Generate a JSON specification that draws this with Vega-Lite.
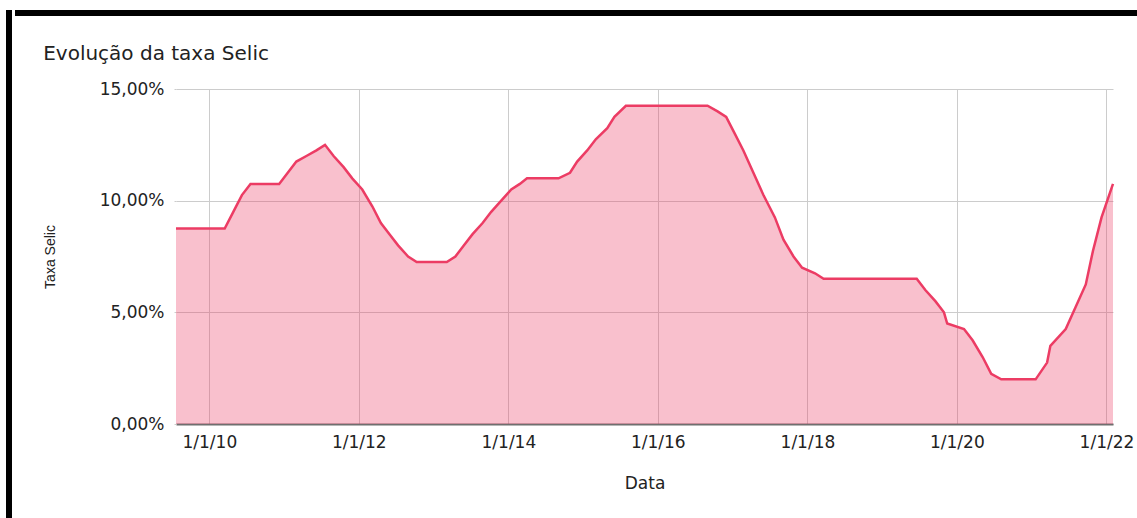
{
  "$schema": "https://vega.github.io/schema/vega-lite/v6.json",
  "background": "white",
  "padding": {"left": 6, "top": 10, "right": 0, "bottom": 0},
  "config": {"view": {"stroke": null}},
  "spacing": 0,
  "hconcat": [
    {
      "width": 6,
      "height": 508,
      "view": {"fill": "black", "stroke": null},
      "data": {"values": [{}]},
      "mark": {"type": "point", "opacity": 0},
      "encoding": {}
    },
    {
      "spacing": 28,
      "vconcat": [
        {
          "width": 1125,
          "height": 6,
          "view": {"fill": "black", "stroke": null},
          "data": {"values": [{}]},
          "mark": {"type": "point", "opacity": 0},
          "encoding": {}
        },
        {
          "spacing": 24,
          "hconcat": [
            {
              "width": 1,
              "height": 1,
              "data": {"values": [{}]},
              "mark": {"type": "point", "opacity": 0},
              "encoding": {}
            },
            {
              "width": 937,
              "height": 335,
              "title": {
                "text": "Evolução da taxa Selic",
                "anchor": "start",
                "font": "DejaVu Sans",
                "fontSize": 20,
                "fontWeight": "normal",
                "color": "#222222",
                "offset": 16
              },
              "data": {
                "values": [
                  {"date": "2009-07-22", "selic": 8.75},
                  {"date": "2010-03-17", "selic": 8.75},
                  {"date": "2010-04-28", "selic": 9.5},
                  {"date": "2010-06-09", "selic": 10.25},
                  {"date": "2010-07-21", "selic": 10.75},
                  {"date": "2010-12-08", "selic": 10.75},
                  {"date": "2011-01-19", "selic": 11.25},
                  {"date": "2011-03-02", "selic": 11.75},
                  {"date": "2011-04-20", "selic": 12.0},
                  {"date": "2011-06-08", "selic": 12.25},
                  {"date": "2011-07-20", "selic": 12.5},
                  {"date": "2011-08-31", "selic": 12.0},
                  {"date": "2011-10-19", "selic": 11.5},
                  {"date": "2011-11-30", "selic": 11.0},
                  {"date": "2012-01-18", "selic": 10.5},
                  {"date": "2012-03-07", "selic": 9.75},
                  {"date": "2012-04-18", "selic": 9.0},
                  {"date": "2012-05-30", "selic": 8.5},
                  {"date": "2012-07-11", "selic": 8.0},
                  {"date": "2012-08-29", "selic": 7.5},
                  {"date": "2012-10-10", "selic": 7.25},
                  {"date": "2013-03-06", "selic": 7.25},
                  {"date": "2013-04-17", "selic": 7.5},
                  {"date": "2013-05-29", "selic": 8.0},
                  {"date": "2013-07-10", "selic": 8.5},
                  {"date": "2013-08-28", "selic": 9.0},
                  {"date": "2013-10-09", "selic": 9.5},
                  {"date": "2013-11-27", "selic": 10.0},
                  {"date": "2014-01-15", "selic": 10.5},
                  {"date": "2014-02-26", "selic": 10.75},
                  {"date": "2014-04-02", "selic": 11.0},
                  {"date": "2014-09-03", "selic": 11.0},
                  {"date": "2014-10-29", "selic": 11.25},
                  {"date": "2014-12-03", "selic": 11.75},
                  {"date": "2015-01-21", "selic": 12.25},
                  {"date": "2015-03-04", "selic": 12.75},
                  {"date": "2015-04-29", "selic": 13.25},
                  {"date": "2015-06-03", "selic": 13.75},
                  {"date": "2015-07-29", "selic": 14.25},
                  {"date": "2016-08-31", "selic": 14.25},
                  {"date": "2016-10-19", "selic": 14.0},
                  {"date": "2016-11-30", "selic": 13.75},
                  {"date": "2017-01-11", "selic": 13.0},
                  {"date": "2017-02-22", "selic": 12.25},
                  {"date": "2017-04-12", "selic": 11.25},
                  {"date": "2017-05-31", "selic": 10.25},
                  {"date": "2017-07-26", "selic": 9.25},
                  {"date": "2017-09-06", "selic": 8.25},
                  {"date": "2017-10-25", "selic": 7.5},
                  {"date": "2017-12-06", "selic": 7.0},
                  {"date": "2018-02-07", "selic": 6.75},
                  {"date": "2018-03-21", "selic": 6.5},
                  {"date": "2019-06-19", "selic": 6.5},
                  {"date": "2019-07-31", "selic": 6.0},
                  {"date": "2019-09-18", "selic": 5.5},
                  {"date": "2019-10-30", "selic": 5.0},
                  {"date": "2019-11-15", "selic": 4.5},
                  {"date": "2020-02-05", "selic": 4.25},
                  {"date": "2020-03-18", "selic": 3.75},
                  {"date": "2020-05-06", "selic": 3.0},
                  {"date": "2020-06-17", "selic": 2.25},
                  {"date": "2020-08-05", "selic": 2.0},
                  {"date": "2021-01-20", "selic": 2.0},
                  {"date": "2021-03-17", "selic": 2.75},
                  {"date": "2021-04-02", "selic": 3.5},
                  {"date": "2021-06-16", "selic": 4.25},
                  {"date": "2021-08-04", "selic": 5.25},
                  {"date": "2021-09-22", "selic": 6.25},
                  {"date": "2021-10-27", "selic": 7.75},
                  {"date": "2021-12-08", "selic": 9.25},
                  {"date": "2022-02-02", "selic": 10.75}
                ]
              },
              "mark": {
                "type": "area",
                "color": "#EC3C64",
                "fillOpacity": 0.32,
                "interpolate": "linear",
                "line": {"color": "#EC3C64", "strokeWidth": 2.5}
              },
              "encoding": {
                "x": {
                  "field": "date",
                  "type": "temporal",
                  "scale": {
                    "type": "utc",
                    "domain": [
                      {"year": 2009, "month": 7, "date": 22, "utc": true},
                      {"year": 2022, "month": 2, "date": 2, "utc": true}
                    ]
                  },
                  "axis": {
                    "title": "Data",
                    "values": [
                      {"year": 2010, "month": 1, "date": 1, "utc": true},
                      {"year": 2012, "month": 1, "date": 1, "utc": true},
                      {"year": 2014, "month": 1, "date": 1, "utc": true},
                      {"year": 2016, "month": 1, "date": 1, "utc": true},
                      {"year": 2018, "month": 1, "date": 1, "utc": true},
                      {"year": 2020, "month": 1, "date": 1, "utc": true},
                      {"year": 2022, "month": 1, "date": 1, "utc": true}
                    ],
                    "format": "%-m/%-d/%y",
                    "grid": true,
                    "gridColor": "#cccccc",
                    "gridWidth": 1,
                    "tickSize": 0,
                    "labelPadding": 10,
                    "labelFont": "DejaVu Sans",
                    "labelFontSize": 17,
                    "labelColor": "#222222",
                    "labelOverlap": false,
                    "labelFlush": false,
                    "titleFont": "DejaVu Sans",
                    "titleFontSize": 17,
                    "titleFontWeight": "normal",
                    "titleColor": "#222222",
                    "titlePadding": 25,
                    "domainColor": "#6f6f6f",
                    "domainWidth": 2
                  }
                },
                "y": {
                  "field": "selic",
                  "type": "quantitative",
                  "scale": {"domain": [0, 15], "nice": false},
                  "axis": {
                    "title": "Taxa Selic",
                    "values": [0, 5, 10, 15],
                    "labelExpr": "replace(format(datum.value, '.2f'), '.', ',') + '%'",
                    "grid": true,
                    "gridColor": "#cccccc",
                    "gridWidth": 1,
                    "domain": false,
                    "tickSize": 2,
                    "tickColor": "#cccccc",
                    "labelPadding": 10,
                    "labelFont": "DejaVu Sans",
                    "labelFontSize": 17,
                    "labelColor": "#222222",
                    "titleFont": "Liberation Sans",
                    "titleFontSize": 14,
                    "titleFontWeight": "normal",
                    "titleColor": "#222222",
                    "titlePadding": 42
                  }
                }
              }
            }
          ]
        }
      ]
    }
  ]
}
